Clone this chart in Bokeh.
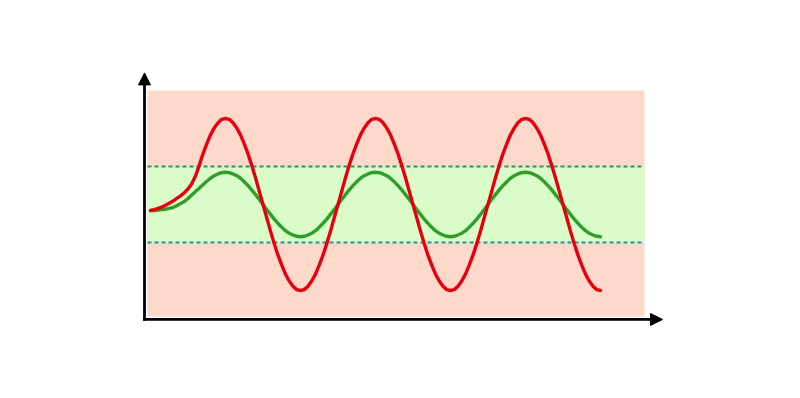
from bokeh.plotting import figure
from bokeh.models import Range1d, Arrow, NormalHead, ColumnDataSource
from bokeh.embed import file_html
from bokeh.resources import INLINE

# time samples (half-period = 1 unit)
t = [0.00, 0.05, 0.10, 0.15, 0.20, 0.25, 0.30, 0.35, 0.40, 0.45,
     0.50, 0.55, 0.60, 0.65, 0.70, 0.75, 0.80, 0.85, 0.90, 0.95,
     1.00, 1.05, 1.10, 1.15, 1.20, 1.25, 1.30, 1.35, 1.40, 1.45,
     1.50, 1.55, 1.60, 1.65, 1.70, 1.75, 1.80, 1.85, 1.90, 1.95,
     2.00, 2.05, 2.10, 2.15, 2.20, 2.25, 2.30, 2.35, 2.40, 2.45,
     2.50, 2.55, 2.60, 2.65, 2.70, 2.75, 2.80, 2.85, 2.90, 2.95,
     3.00, 3.05, 3.10, 3.15, 3.20, 3.25, 3.30, 3.35, 3.40, 3.45,
     3.50, 3.55, 3.60, 3.65, 3.70, 3.75, 3.80, 3.85, 3.90, 3.95,
     4.00, 4.05, 4.10, 4.15, 4.20, 4.25, 4.30, 4.35, 4.40, 4.45,
     4.50, 4.55, 4.60, 4.65, 4.70, 4.75, 4.80, 4.85, 4.90, 4.95,
     5.00, 5.05, 5.10, 5.15, 5.20, 5.25, 5.30, 5.35, 5.40, 5.45,
     5.50, 5.55, 5.60, 5.65, 5.70, 5.75, 5.80, 5.85, 5.90, 5.95,
     6.00]

# large-amplitude (red) signal
red = [-0.14, -0.12, -0.09, -0.06, -0.02, 0.03, 0.08, 0.14, 0.20, 0.27,
       0.36, 0.48, 0.66, 0.91, 1.18, 1.41, 1.62, 1.78, 1.90, 1.98,
       2.00, 1.98, 1.90, 1.78, 1.62, 1.41, 1.18, 0.91, 0.62, 0.31,
       0.00, -0.31, -0.62, -0.91, -1.18, -1.41, -1.62, -1.78, -1.90, -1.98,
       -2.00, -1.98, -1.90, -1.78, -1.62, -1.41, -1.18, -0.91, -0.62, -0.31,
       0.00, 0.31, 0.62, 0.91, 1.18, 1.41, 1.62, 1.78, 1.90, 1.98,
       2.00, 1.98, 1.90, 1.78, 1.62, 1.41, 1.18, 0.91, 0.62, 0.31,
       0.00, -0.31, -0.62, -0.91, -1.18, -1.41, -1.62, -1.78, -1.90, -1.98,
       -2.00, -1.98, -1.90, -1.78, -1.62, -1.41, -1.18, -0.91, -0.62, -0.31,
       0.00, 0.31, 0.62, 0.91, 1.18, 1.41, 1.62, 1.78, 1.90, 1.98,
       2.00, 1.98, 1.90, 1.78, 1.62, 1.41, 1.18, 0.91, 0.62, 0.31,
       0.00, -0.31, -0.62, -0.91, -1.18, -1.41, -1.62, -1.78, -1.90, -1.98,
       -2.00]

# small-amplitude (green) signal
green = [-0.14, -0.14, -0.13, -0.12, -0.11, -0.09, -0.07, -0.03, 0.02, 0.07,
         0.14, 0.22, 0.30, 0.38, 0.46, 0.54, 0.61, 0.67, 0.71, 0.74,
         0.75, 0.74, 0.71, 0.67, 0.61, 0.53, 0.44, 0.34, 0.23, 0.12,
         0.00, -0.12, -0.23, -0.34, -0.44, -0.53, -0.61, -0.67, -0.71, -0.74,
         -0.75, -0.74, -0.71, -0.67, -0.61, -0.53, -0.44, -0.34, -0.23, -0.12,
         0.00, 0.12, 0.23, 0.34, 0.44, 0.53, 0.61, 0.67, 0.71, 0.74,
         0.75, 0.74, 0.71, 0.67, 0.61, 0.53, 0.44, 0.34, 0.23, 0.12,
         0.00, -0.12, -0.23, -0.34, -0.44, -0.53, -0.61, -0.67, -0.71, -0.74,
         -0.75, -0.74, -0.71, -0.67, -0.61, -0.53, -0.44, -0.34, -0.23, -0.12,
         0.00, 0.12, 0.23, 0.34, 0.44, 0.53, 0.61, 0.67, 0.71, 0.74,
         0.75, 0.74, 0.71, 0.67, 0.61, 0.53, 0.44, 0.34, 0.23, 0.12,
         0.00, -0.12, -0.23, -0.34, -0.44, -0.53, -0.61, -0.67, -0.71, -0.74,
         -0.75]

# zones
zone_t = [-0.04, 6.587]
outer_zone = [-2.605, 2.651]
inner_zone = [-0.884, 0.884]
# axes
axis_t = [-0.08, 6.827]
axis_v = [-2.674, 3.06]

p = figure(width=800, height=398, output_backend="svg", toolbar_location=None,
           x_axis_type=None, y_axis_type=None, min_border=0,
           x_range=Range1d(-2.0, 8.667), y_range=Range1d(-4.512, 4.744))
p.outline_line_color = None
p.grid.visible = False
p.background_fill_color = "white"
p.border_fill_color = "white"

# pink outer zone
p.quad(left=zone_t[0], right=zone_t[1], bottom=outer_zone[0], top=outer_zone[1],
       fill_color="#fdd9cc", line_color=None)
# green inner band
p.quad(left=zone_t[0], right=zone_t[1], bottom=inner_zone[0], top=inner_zone[1],
       fill_color="#dafcc8", line_color=None)
# dashed limits
p.line(zone_t, [inner_zone[1], inner_zone[1]], line_color="#1f9a66", line_width=2,
       line_dash="4 3")
p.line(zone_t, [inner_zone[0], inner_zone[0]], line_color="#14999a", line_width=2,
       line_dash="4 3")

src = ColumnDataSource(dict(t=t, red=red, green=green))
p.line("t", "green", source=src, line_color="#2f9e2a", line_width=3.4,
       line_cap="round", line_join="round")
p.line("t", "red", source=src, line_color="#e6000f", line_width=3.4,
       line_cap="round", line_join="round")

# axes with arrows
p.add_layout(Arrow(end=NormalHead(size=12, fill_color="black", line_color="black"),
                   x_start=axis_t[0], y_start=axis_v[0] - 0.03,
                   x_end=axis_t[0], y_end=axis_v[1],
                   line_color="black", line_width=2.8))
p.add_layout(Arrow(end=NormalHead(size=12, fill_color="black", line_color="black"),
                   x_start=axis_t[0] - 0.02, y_start=axis_v[0],
                   x_end=axis_t[1], y_end=axis_v[0],
                   line_color="black", line_width=2.8))

open("out.html", "w").write(file_html(p, INLINE))
